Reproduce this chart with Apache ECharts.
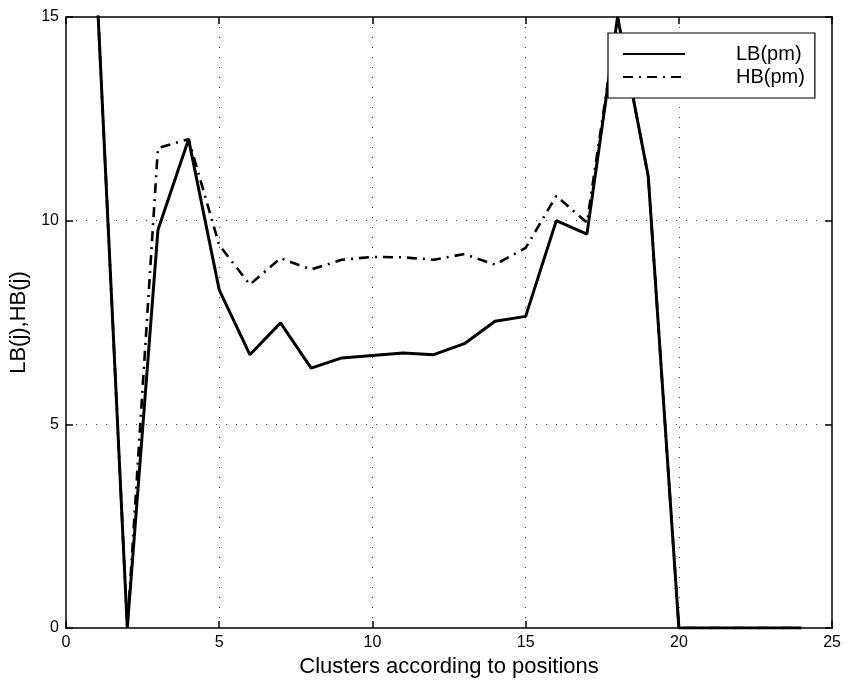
<!DOCTYPE html>
<html>
<head>
<meta charset="utf-8">
<script src="https://cdn.jsdelivr.net/npm/echarts@6/dist/echarts.min.js"></script>
<style>
  html, body { margin: 0; padding: 0; background: #fff; }
  #chart { width: 844px; height: 686px; }
</style>
</head>
<body>
<div id="chart"></div>
<script>
// Cluster indices along the x axis
const clusters = [1, 2, 3, 4, 5, 6, 7, 8, 9, 10, 11, 12, 13, 14, 15, 16, 17, 18, 19, 20, 21, 22, 23, 24];
// Lower bound per cluster
const lbValues = [15.8, 0, 9.77, 12.0, 8.3, 6.71, 7.49, 6.38, 6.63, 6.69, 6.75, 6.71, 6.98, 7.53, 7.65, 10.0, 9.67, 15.0, 11.09, 0, 0, 0, 0, 0];
// Higher bound per cluster
const hbValues = [15.8, 0, 11.78, 12.0, 9.4, 8.43, 9.08, 8.80, 9.04, 9.11, 9.10, 9.04, 9.18, 8.92, 9.33, 10.61, 9.95, 15.0, 11.09, 0, 0, 0, 0, 0];
const xTicks = [0, 5, 10, 15, 20, 25];
const yTicks = [0, 5, 10, 15];

const font = 'Liberation Sans, Arial, Helvetica, sans-serif';
const pairs = (ys) => clusters.map((x, i) => [x, ys[i]]);

const chart = echarts.init(document.getElementById('chart'), null, { renderer: 'canvas' });

// Dotted grid only at interior ticks; the frame is drawn by the axis lines
const gridLine = {
  show: true, showMinLine: false, showMaxLine: false,
  lineStyle: { color: '#444', width: 1, type: [1, 9] }
};
const tickIn = { show: true, inside: true, length: 7, lineStyle: { color: '#000', width: 1.5 } };
const axisLine = { show: true, onZero: false, lineStyle: { color: '#000', width: 1.5 } };

chart.setOption({
  animation: false,
  backgroundColor: '#fff',
  grid: { left: 63, top: 17, width: 772, height: 611, containLabel: false },
  legend: {
    left: 608, top: 33,
    orient: 'vertical',
    backgroundColor: '#fff',
    borderColor: '#000', borderWidth: 1.2,
    padding: [11, 10, 11, 14],
    itemWidth: 62, itemHeight: 20, itemGap: 3,
    itemStyle: { color: 'transparent', borderWidth: 0 },
    textStyle: { fontFamily: font, fontSize: 20, color: '#000', padding: [0, 0, 0, 46] },
    data: ['LB(pm)', 'HB(pm)']
  },
  xAxis: [
    {
      type: 'value', min: xTicks[0], max: xTicks[xTicks.length - 1], interval: 5,
      name: 'Clusters according to positions', nameLocation: 'middle', nameGap: 28,
      nameTextStyle: { fontFamily: font, fontSize: 22, color: '#000' },
      axisLine: axisLine, axisTick: tickIn, splitLine: gridLine,
      axisLabel: { fontFamily: font, fontSize: 16, color: '#000', margin: 7 }
    },
    {
      type: 'value', position: 'top', min: 0, max: 25, interval: 5,
      axisLine: axisLine, axisTick: tickIn, splitLine: { show: false },
      axisLabel: { show: false }
    }
  ],
  yAxis: [
    {
      type: 'value', min: yTicks[0], max: yTicks[yTicks.length - 1], interval: 5,
      name: 'LB(j),HB(j)', nameLocation: 'middle', nameGap: 36,
      nameTextStyle: { fontFamily: font, fontSize: 22, color: '#000' },
      axisLine: axisLine, axisTick: tickIn, splitLine: gridLine,
      axisLabel: { fontFamily: font, fontSize: 16, color: '#000', margin: 7 }
    },
    {
      type: 'value', position: 'right', min: 0, max: 15, interval: 5,
      axisLine: axisLine, axisTick: tickIn, splitLine: { show: false },
      axisLabel: { show: false }
    }
  ],
  series: [
    {
      name: 'LB(pm)', type: 'line', data: pairs(lbValues),
      showSymbol: false, symbol: 'none', clip: true,
      lineStyle: { color: '#000', width: 3, type: 'solid' },
      itemStyle: { color: '#000' }, z: 3
    },
    {
      name: 'HB(pm)', type: 'line', data: pairs(hbValues),
      showSymbol: false, symbol: 'none', clip: true,
      lineStyle: { color: '#000', width: 2.6, type: [10, 6, 2, 6] },
      itemStyle: { color: '#000' }, z: 2
    }
  ]
});
</script>
</body>
</html>
